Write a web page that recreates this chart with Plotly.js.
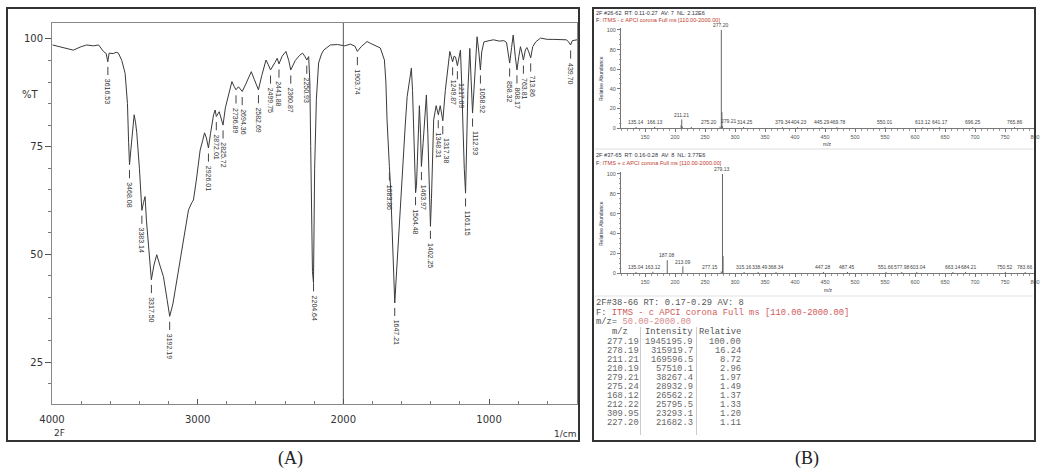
<!DOCTYPE html>
<html><head><meta charset="utf-8">
<script src="https://cdn.plot.ly/plotly-3.0.1.min.js"></script>
<style>html,body{margin:0;padding:0;background:#fff}#chart{width:1041px;height:472px}</style>
</head><body><div id="chart"></div>
<script>
// ---------- Panel A: FT-IR spectrum ----------
const irWavenumber = [3996,3950,3900,3854,3800,3762,3716,3680,3647,3628,3617,3608,3580,3560,3544,3521,3498,3482,3474,3468,
 3458,3445,3436,3426,3418,3400,3390,3383,3372,3361,3352,3345,3332,3318,3300,3281,3260,3235,3210,3192,
 3170,3143,3120,3098,3063,3040,3029,3010,2983,2965,2953,2940,2926,2912,2891,2880,2872,2852,2840,2826,
 2810,2790,2765,2750,2737,2720,2694,2670,2632,2610,2583,2560,2531,2515,2500,2470,2454,2442,2420,2394,
 2375,2361,2330,2300,2280,2265,2251,2238,2230,2224,2218,2212,2205,2200,2197,2185,2170,2150,2135,2089,
 2040,1990,1952,1920,1904,1878,1837,1815,1792,1746,1718,1708,1700,1690,1684,1675,1665,1655,1647,1638,
 1625,1608,1590,1575,1562,1548,1533,1525,1517,1510,1504,1498,1490,1478,1470,1464,1452,1440,1430,1420,
 1410,1402,1395,1388,1380,1363,1348,1335,1317,1300,1280,1269,1260,1250,1240,1230,1217,1205,1196,1188,
 1178,1170,1161,1155,1145,1132,1122,1113,1100,1090,1082,1070,1059,1050,1035,1000,969,930,898,880,
 870,858,845,834,820,808,795,784,772,764,750,740,727,714,700,680,646,600,560,509,
 470,455,440,428,405,396];
const irTransmittance = [98.6,98.2,97.9,97.4,98.2,98.6,98.4,98.6,97.1,96.6,94.7,96.7,96.6,96.9,96.7,95.0,92.0,85.0,76.0,70.8,
 74.5,80.0,82.4,80.5,78.2,70.0,64.0,60.2,62.0,63.4,58.0,55.0,48.5,44.1,47.5,49.9,47.5,44.8,39.5,35.6,
 38.5,44.1,49.0,53.4,60.3,62.0,62.6,67.0,74.2,76.5,78.2,77.0,74.7,78.0,82.4,83.5,82.0,83.1,81.5,80.0,
 84.0,87.0,90.1,89.0,88.2,88.9,87.8,89.5,92.4,90.5,88.2,91.5,95.1,94.0,92.8,94.5,95.5,94.2,96.0,97.1,
 95.0,92.8,95.0,96.2,96.7,96.0,95.1,95.9,90.0,75.0,58.0,46.0,43.4,60.0,70.0,86.0,94.4,96.5,97.4,98.6,
 98.7,98.4,98.8,98.3,97.1,98.2,99.4,99.0,98.6,97.9,95.1,90.0,81.2,73.0,70.4,65.0,55.0,45.0,38.7,44.0,
 52.0,62.0,72.0,80.0,86.6,90.0,93.2,88.0,77.3,68.0,64.3,66.0,75.0,84.5,78.0,70.4,76.0,83.0,87.0,78.0,
 65.0,56.5,63.0,72.0,81.2,84.5,82.4,84.5,81.0,88.0,94.0,97.1,96.0,94.7,96.0,95.8,93.8,96.5,97.4,90.0,
 78.0,70.0,64.2,72.0,88.0,97.8,90.0,82.8,90.0,98.0,100.5,97.0,92.8,97.0,99.3,99.6,99.8,99.5,99.6,99.2,
 97.0,94.4,98.0,100.9,96.0,92.8,96.0,98.2,96.5,95.1,97.5,98.0,97.0,95.6,98.2,99.3,100.2,99.9,99.9,99.8,
 99.8,99.4,98.6,99.6,99.8,99.8];
const irPeakWavenumber = [3616.53,3468.08,3383.14,3317.50,3192.19,2926.01,2872.01,2825.72,2736.89,2694.36,
 2582.69,2499.75,2441.88,2360.87,2250.93,2204.64,1903.74,1683.86,1647.21,1504.48,1463.97,1402.25,
 1348.31,1317.38,1249.87,1217.09,1161.15,1112.93,1058.92,858.32,808.17,763.81,713.86,439.70];
const irXTicks = [4000,3000,2000,1000];
const irYTicks = [25,50,75,100];

// ---------- Panel B: APCI mass spectra ----------
const ms1Mz = [135.14,166.13,210.19,211.21,212.22,227.20,275.20,277.20,278.20,279.21,314.25,379.34,404.23,445.29,469.78,550.01,613.12,641.17,696.25,765.86];
const ms1Abundance = [1.0,1.2,3.0,8.7,1.3,1.1,1.5,100,16.2,2.0,1.0,0.8,0.8,0.8,0.8,0.8,0.8,0.8,0.8,0.8];
const ms1Label = ["135.14","166.13","","211.21","","","275.20","277.20","","279.21","314.25","379.34","404.23","445.29","469.78","550.01","613.12","641.17","696.25","765.86"];
const ms2Mz = [135.04,163.12,187.08,213.09,277.15,279.13,280.13,315.16,338.49,368.34,447.28,487.45,551.66,577.98,603.04,663.14,684.21,750.52,783.66];
const ms2Abundance = [1.0,1.2,13.0,6.7,1.5,100,17.0,1.0,1.0,1.0,1.0,1.0,1.0,1.0,1.0,1.0,1.0,1.0,1.0];
const ms2Label = ["135.04","163.12","187.08","213.09","277.15","279.13","","315.16","338.49","368.34","447.28","487.45","551.66","577.98","603.04","663.14","684.21","750.52","783.66"];
const msXTicks = [150,200,250,300,350,400,450,500,550,600,650,700,750,800];
const msYTicks = [0,20,40,60,80,100];
const ms1Header = ["2F #26-62  RT: 0.11-0.27  AV: 7  NL: 2.12E6", "ITMS - c APCI corona Full ms [110.00-2000.00]"];
const ms2Header = ["2F #37-65  RT: 0.16-0.28  AV: 8  NL: 3.77E6", "ITMS + c APCI corona Full ms [110.00-2000.00]"];

// ---------- Panel B: peak table ----------
const tableHeader = ["2F#38-66 RT: 0.17-0.29 AV: 8", "ITMS - c APCI corona Full ms [110.00-2000.00]", "50.00-2000.00"];
const tableMz = [277.19,278.19,211.21,210.19,279.21,275.24,168.12,212.22,309.95,227.20];
const tableIntensity = [1945195.9,315919.7,169596.5,57510.1,38267.4,28932.9,26562.2,25795.5,23293.1,21682.3];
const tableRelative = [100.00,16.24,8.72,2.96,1.97,1.49,1.37,1.33,1.20,1.11];

// ---------- helpers ----------
const W = 1041, H = 472;
const px = v => v / W, py = v => 1 - v / H;
const sp = s => s.replace(/ /g, '\u00a0');
function interpT(w) {
  for (let i = 0; i < irWavenumber.length - 1; i++) {
    const a = irWavenumber[i], b = irWavenumber[i + 1];
    if (w <= a && w >= b) {
      const t = (a - w) / (a - b);
      return irTransmittance[i] + t * (irTransmittance[i + 1] - irTransmittance[i]);
    }
  }
  return 100;
}
function sticks(mz, ab) {
  const x = [], y = [];
  mz.forEach((m, i) => { x.push(m, m, null); y.push(0, ab[i], null); });
  return {x, y};
}

const annotations = [];
const shapes = [];
const txt = (x, y, text, o = {}) => annotations.push(Object.assign({
  xref: 'paper', yref: 'paper', x: px(x), y: py(y), text, showarrow: false,
  xanchor: 'left', yanchor: 'middle', borderpad: 0,
  font: {family: 'Liberation Sans, Arial, sans-serif', size: 10, color: '#333'}
}, o));

// IR peak labels (dash under the dip, rotated text; spread labels that would collide)
const IR_PX_PER_UNIT = (577 - 52) / (4000 - 396);
let lastIrX = -1e9;
irPeakWavenumber.forEach(w => {
  const t = interpT(w);
  const xp = (4000 - w) * IR_PX_PER_UNIT;
  const xLab = Math.max(xp, lastIrX + 7.5);
  lastIrX = xLab;
  shapes.push({type: 'line', xref: 'x', yref: 'y', x0: w, x1: w, y0: t - 1.3, y1: t - 3.2,
    line: {color: '#444', width: 1}});
  annotations.push({xref: 'x', yref: 'y', x: w, y: t - 3.9, text: w.toFixed(2), textangle: 90,
    showarrow: false, xanchor: 'center', yanchor: 'top', borderpad: 0, xshift: xLab - xp,
    font: {family: 'Liberation Sans, Arial, sans-serif', size: 7, color: '#333'}});
});

// MS peak labels (with simple de-overlap of the low labels)
const MS_PX_PER_UNIT = (1035 - 621) / (800 - 110);
function msLabels(mz, ab, lab, xr, yr) {
  const iMax = ab.indexOf(Math.max(...ab));
  const items = [];
  mz.forEach((m, i) => {
    if (!lab[i]) return;
    let shift = 0;
    if (i !== iMax && Math.abs(m - mz[iMax]) < 4) shift = m < mz[iMax] ? -11 : 6;
    items.push({i, m, shift, low: i !== iMax && ab[i] < 5});
  });
  let lastX = -1e9;
  items.filter(d => d.low).forEach(d => {
    let xp = (d.m - 110) * MS_PX_PER_UNIT + d.shift;
    if (xp < lastX + 16) { d.shift += (lastX + 16 - xp); xp = lastX + 16; }
    lastX = xp;
  });
  items.forEach(d => {
    annotations.push({xref: xr, yref: yr, x: d.m, y: ab[d.i] + 0.8, text: lab[d.i], showarrow: false,
      xanchor: 'center', yanchor: 'bottom', xshift: d.shift, borderpad: 0,
      font: {family: 'Liberation Sans, Arial, sans-serif', size: 5, color: '#444'}});
  });
}
msLabels(ms1Mz, ms1Abundance, ms1Label, 'x2', 'y2');
msLabels(ms2Mz, ms2Abundance, ms2Label, 'x3', 'y3');

// Panel A texts
txt(30, 94, '%T', {xanchor: 'center', font: {family: 'DejaVu Sans', size: 10, color: '#333'}});
txt(59, 433, '2F', {xanchor: 'center', font: {family: 'DejaVu Sans', size: 9, color: '#333'}});
txt(577, 434, '1/cm', {xanchor: 'right', font: {family: 'DejaVu Sans', size: 9, color: '#333'}});
txt(290, 458, '(A)', {xanchor: 'center', font: {family: 'Liberation Serif, serif', size: 18, color: '#222'}});
txt(807, 458, '(B)', {xanchor: 'center', font: {family: 'Liberation Serif, serif', size: 18, color: '#222'}});

// Panel B spectrum headers
const small = {family: 'Liberation Sans, Arial, sans-serif', size: 5.6, color: '#334'};
txt(595, 12.7, sp(ms1Header[0]), {font: small});
txt(595, 19.5, 'F: <span style="color:#c0392b">' + sp(ms1Header[1]) + '</span>', {font: small});
txt(595, 155, sp(ms2Header[0]), {font: small});
txt(595, 162.5, 'F: <span style="color:#c0392b">' + sp(ms2Header[1]) + '</span>', {font: small});
const tiny = Object.assign({}, small, {size: 5});
txt(601, 79, 'Relative Abundance', {xanchor: 'center', textangle: -90, font: tiny});
txt(601, 224, 'Relative Abundance', {xanchor: 'center', textangle: -90, font: tiny});
txt(827, 144, 'm/z', {xanchor: 'center', font: tiny});
txt(828, 290, 'm/z', {xanchor: 'center', font: tiny});

// Peak table
const mono = {family: 'Liberation Mono, DejaVu Sans Mono, monospace', size: 8.8, color: '#555'};
txt(595, 303.3, sp(tableHeader[0]), {font: mono});
txt(595, 312.7, 'F: <span style="color:#d05a5a">' + sp(tableHeader[1]) + '</span>', {font: mono});
txt(595, 321.7, 'm/z= <span style="color:#d88a8a">' + tableHeader[2] + '</span>', {font: mono});
txt(620, 331.7, 'm/z', {xanchor: 'center', font: mono});
txt(644, 331.7, 'Intensity', {font: mono});
txt(698, 331.7, 'Relative', {font: mono});
const rowFont = Object.assign({}, mono, {color: '#666'});
tableMz.forEach((m, i) => {
  const y = 341.7 + 9 * i;
  txt(639.5, y, m.toFixed(2), {xanchor: 'right', font: rowFont});
  txt(693.5, y, tableIntensity[i].toFixed(1), {xanchor: 'right', font: rowFont});
  txt(742, y, tableRelative[i].toFixed(2), {xanchor: 'right', font: rowFont});
});

// shapes: frames, 2000 line, separators
shapes.push({type: 'rect', xref: 'paper', yref: 'paper', x0: px(7), x1: px(579), y0: py(441), y1: py(8), line: {color: '#333', width: 2}});
shapes.push({type: 'rect', xref: 'paper', yref: 'paper', x0: px(593), x1: px(1035), y0: py(441), y1: py(8), line: {color: '#333', width: 2}});
shapes.push({type: 'line', xref: 'x', yref: 'paper', x0: 2000, x1: 2000, y0: py(404), y1: py(23), line: {color: '#555', width: 1}});
shapes.push({type: 'line', xref: 'paper', yref: 'paper', x0: px(595), x1: px(1033), y0: py(149), y1: py(149), line: {color: '#ddd', width: 1}});
shapes.push({type: 'line', xref: 'paper', yref: 'paper', x0: px(595), x1: px(1033), y0: py(296), y1: py(296), line: {color: '#e4e4e4', width: 1}});
shapes.push({type: 'line', xref: 'paper', yref: 'paper', x0: px(640.5), x1: px(640.5), y0: py(435), y1: py(327), line: {color: '#ccc', width: 1}});
shapes.push({type: 'line', xref: 'paper', yref: 'paper', x0: px(696.5), x1: px(696.5), y0: py(435), y1: py(327), line: {color: '#ccc', width: 1}});

const s1 = sticks(ms1Mz, ms1Abundance), s2 = sticks(ms2Mz, ms2Abundance);
const data = [
  {type: 'scatter', mode: 'lines', x: irWavenumber, y: irTransmittance, xaxis: 'x', yaxis: 'y',
   line: {color: '#3a3a3a', width: 1}, hoverinfo: 'skip'},
  {type: 'scatter', mode: 'lines', x: s1.x, y: s1.y, xaxis: 'x2', yaxis: 'y2', connectgaps: false,
   line: {color: '#666', width: 1}, hoverinfo: 'skip'},
  {type: 'scatter', mode: 'lines', x: s2.x, y: s2.y, xaxis: 'x3', yaxis: 'y3', connectgaps: false,
   line: {color: '#666', width: 1}, hoverinfo: 'skip'}
];

const msX = (anchor) => ({
  domain: [px(621), px(1035)], anchor, range: [110, 800], tickmode: 'array', tickvals: msXTicks,
  ticks: 'outside', ticklen: 3, tickcolor: '#777',
  minor: {tickmode: 'linear', tick0: 0, dtick: 10, ticks: 'outside', ticklen: 2, tickcolor: '#999'},
  showline: true, linecolor: '#777', linewidth: 1, showgrid: false, zeroline: false,
  tickfont: {family: 'Liberation Sans, Arial', size: 5.5, color: '#555'}
});
const msY = (anchor, dom) => ({
  domain: dom, anchor, range: [0, 102], tickmode: 'array', tickvals: msYTicks,
  ticks: 'outside', ticklen: 3, tickcolor: '#777',
  minor: {tickmode: 'linear', tick0: 0, dtick: 5, ticks: 'outside', ticklen: 1.5, tickcolor: '#999'},
  showline: true, linecolor: '#777', linewidth: 1, showgrid: false, zeroline: false,
  tickfont: {family: 'Liberation Sans, Arial', size: 5.5, color: '#555'}
});

const layout = {
  width: W, height: H, margin: {l: 0, r: 0, t: 0, b: 0},
  paper_bgcolor: '#fff', plot_bgcolor: 'rgba(0,0,0,0)', showlegend: false,
  xaxis: {domain: [px(52), px(577)], anchor: 'y', range: [4000, 396], tickmode: 'array', tickvals: irXTicks,
    ticks: 'inside', ticklen: 5, tickcolor: '#555',
    minor: {tickmode: 'linear', tick0: 0, dtick: 200, ticks: 'inside', ticklen: 3, tickcolor: '#777'},
    showline: true, mirror: true, linecolor: '#888', linewidth: 1, showgrid: false, zeroline: false,
    ticklabelstandoff: 6,
    tickfont: {family: 'DejaVu Sans', size: 10, color: '#333'}},
  yaxis: {domain: [py(404), py(23)], anchor: 'x', range: [15.25, 103.7], tickmode: 'array', tickvals: irYTicks,
    ticks: 'outside', ticklen: 6, tickcolor: '#555',
    minor: {tickmode: 'linear', tick0: 0, dtick: 5, ticks: 'outside', ticklen: 3, tickcolor: '#777'},
    showline: true, mirror: true, linecolor: '#888', linewidth: 1, showgrid: false, zeroline: false,
    tickfont: {family: 'DejaVu Sans', size: 10, color: '#333'}},
  xaxis2: msX('y2'),
  yaxis2: msY('x2', [py(128), py(28)]),
  xaxis3: msX('y3'),
  yaxis3: msY('x3', [py(273), py(172)]),
  annotations, shapes
};

Plotly.newPlot('chart', data, layout, {staticPlot: true, displayModeBar: false});
</script></body></html>
